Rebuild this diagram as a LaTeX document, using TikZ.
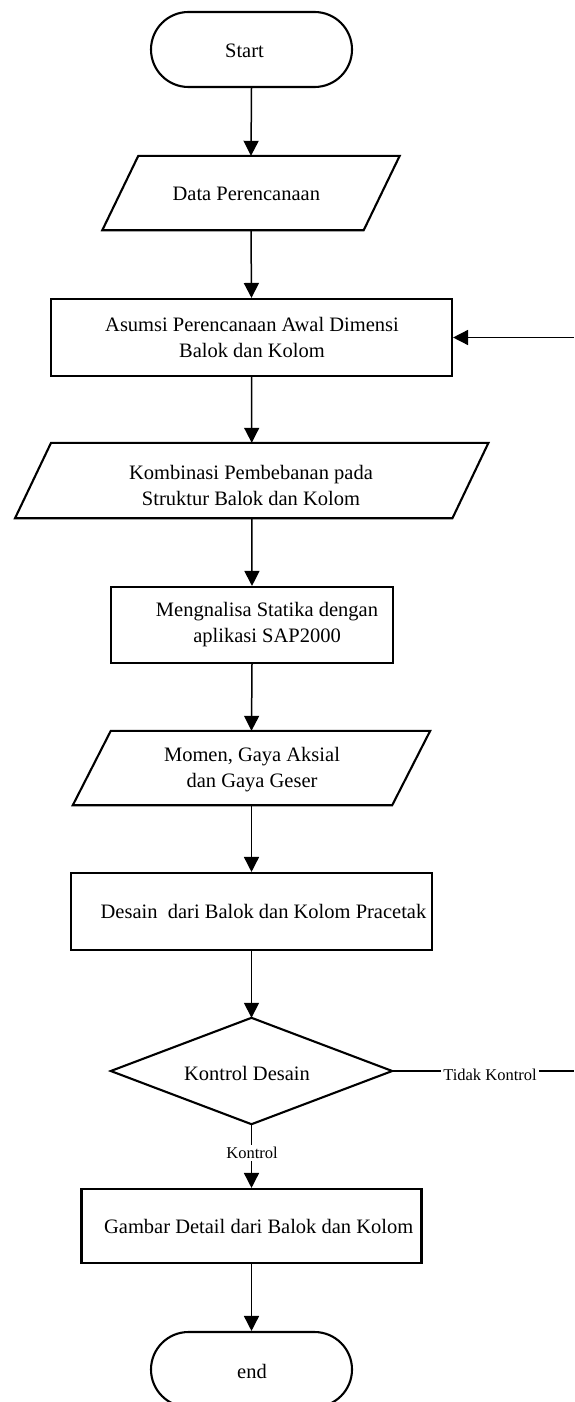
\documentclass[tikz,border=0pt]{standalone}
\usepackage{fontspec}
\setmainfont{Liberation Serif}
\usetikzlibrary{arrows.meta}
\begin{document}
\begin{tikzpicture}[x=1pt,y=-1pt,
  proc/.style={draw, line width=2.1pt, rectangle, inner sep=0pt},
  term/.style={draw, line width=2.1pt, rectangle, rounded corners=37.5pt, inner sep=0pt, minimum width=201pt, minimum height=75pt},
  frame/.style={draw=none, rectangle, inner sep=0pt},
  shapeline/.style={line width=2.1pt, line join=miter},
  lbl/.style={font=\fontsize{20.5}{26}\selectfont, align=center, inner sep=0pt},
  small/.style={font=\fontsize{16.5}{20}\selectfont, fill=white, inner sep=2pt},
  arr/.style={line width=1.5pt, -{Triangle[width=15pt,length=15pt]}},
  plain/.style={line width=1.5pt}
]
\useasboundingbox (0,0) rectangle (574,1402);
\clip (0,0) rectangle (574,1402);

% Start
\node[term] (start) at (251.5,49.5) {};
\node[lbl] (startT) at (244.5,50.5) {Start};

% Data Perencanaan (parallelogram)
\node[frame, minimum width=261pt, minimum height=74pt] (data) at (251,193) {};
\draw[shapeline] ([xshift=18pt]data.north west) -- ([xshift=18pt]data.north east)
  -- ([xshift=-18pt]data.south east) -- ([xshift=-18pt]data.south west) -- cycle;
\node[lbl] (dataT) at (246.3,194) {Data Perencanaan};

% Asumsi
\node[proc, minimum width=401pt, minimum height=77pt] (asumsi) at (251.5,337.5) {};
\node[lbl] (asumsiT) at (252,337) {Asumsi Perencanaan Awal Dimensi\\Balok dan Kolom};

% Kombinasi (parallelogram)
\node[frame, minimum width=437pt, minimum height=75pt] (komb) at (251.75,480.5) {};
\draw[shapeline] ([xshift=18pt]komb.north west) -- ([xshift=18pt]komb.north east)
  -- ([xshift=-18pt]komb.south east) -- ([xshift=-18pt]komb.south west) -- cycle;
\node[lbl] (kombT) at (251,485) {Kombinasi Pembebanan pada\\Struktur Balok dan Kolom};

% Mengnalisa
\node[proc, minimum width=282pt, minimum height=76pt] (meng) at (252,625) {};
\node[lbl] (mengT) at (267,624.5) {Mengnalisa Statika dengan\\aplikasi SAP2000};

% Momen (parallelogram)
\node[frame, minimum width=319pt, minimum height=74pt] (momen) at (251.5,768) {};
\draw[shapeline] ([xshift=19pt]momen.north west) -- ([xshift=19pt]momen.north east)
  -- ([xshift=-19pt]momen.south east) -- ([xshift=-19pt]momen.south west) -- cycle;
\node[lbl] (momenT) at (252,770) {Momen, Gaya Aksial\\dan Gaya Geser};

% Desain
\node[proc, minimum width=361pt, minimum height=77pt] (desain) at (251.5,911.5) {};
\node[lbl] (desainT) at (263.5,911) {Desain\ \ dari Balok dan Kolom Pracetak};

% Decision
\node[frame, minimum width=281pt, minimum height=106pt] (dec) at (251.5,1071) {};
\draw[shapeline] (dec.north) -- (dec.east) -- (dec.south) -- (dec.west) -- cycle;
\node[lbl] (decT) at (247,1073) {Kontrol Desain};

% Gambar
\node[proc, minimum width=340pt, minimum height=74pt] (gambar) at (251.5,1226) {};
\node[lbl] (gambarT) at (258.7,1226) {Gambar Detail dari Balok dan Kolom};

% End
\node[term] (end) at (251.5,1369.5) {};
\node[lbl] (endT) at (252,1371) {end};

% Feedback ends
\coordinate (fbIn) at (574,337.5);
\coordinate (fbOut) at (574,1071);

% Connectors
\draw[arr] (start.south) -- (data.north);
\draw[arr] (data.south) -- (asumsi.north);
\draw[arr] (asumsi.south) -- (komb.north);
\draw[arr] (komb.south) -- (meng.north);
\draw[arr] (meng.south) -- (momen.north);
\draw[arr] (momen.south) -- (desain.north);
\draw[arr] (desain.south) -- (dec.north);
\draw[arr] (dec.south) -- (gambar.north);
\draw[arr] (gambar.south) -- (end.north);
\draw[arr] (fbIn) -- (asumsi.east);
\draw[plain] (dec.east) -- (fbOut);

% Labels on connectors
\node[small] (lblTidak) at (490,1075) {Tidak Kontrol};
\node[small] (lblKontrol) at (252,1153) {Kontrol};
\end{tikzpicture}
\end{document}
